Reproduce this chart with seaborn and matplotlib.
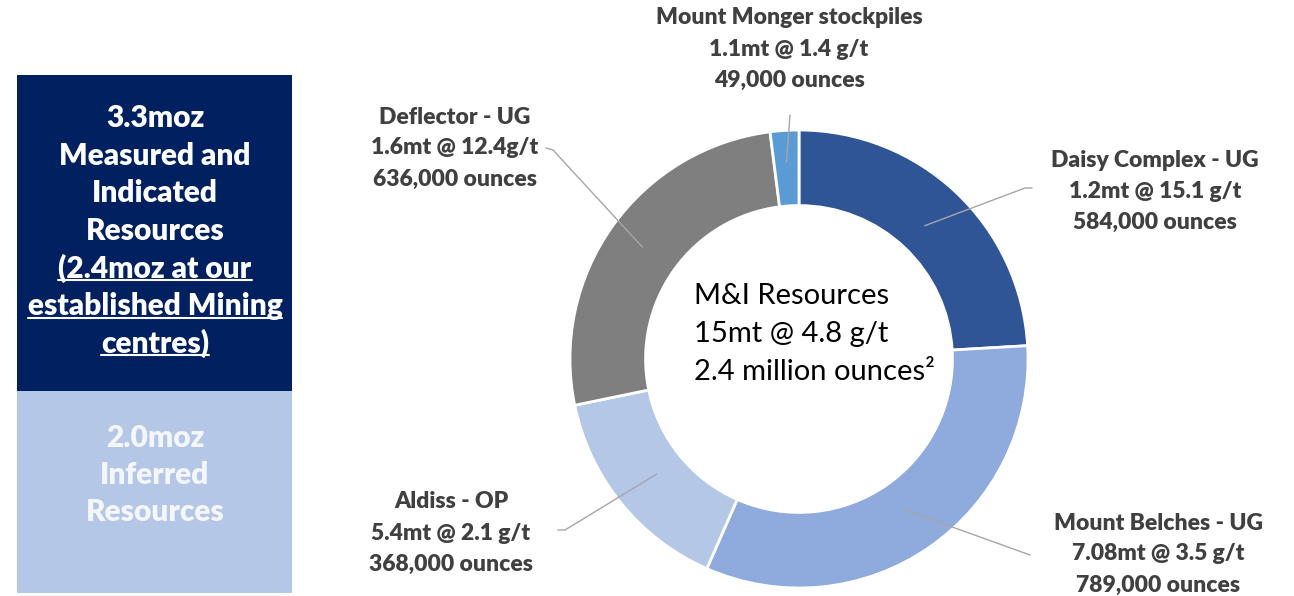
import numpy as np
import pandas as pd
import matplotlib
matplotlib.use("Agg")
import matplotlib.pyplot as plt
import seaborn as sns
from matplotlib.patches import Rectangle
from matplotlib.lines import Line2D

sns.set_theme(style="white")
plt.rcParams['font.family'] = ['Lato', 'DejaVu Sans']

# ---- data ----
deposits = ["Daisy Complex - UG", "Mount Belches - UG", "Aldiss - OP",
            "Deflector - UG", "Mount Monger stockpiles"]
ounces = [584000, 789000, 368000, 636000, 49000]
tonnage_grade = ["1.2mt @ 15.1 g/t", "7.08mt @ 3.5 g/t", "5.4mt @ 2.1 g/t",
                 "1.6mt @ 12.4g/t", "1.1mt @ 1.4 g/t"]
colors = ["#2F5597", "#8FAADC", "#B4C7E7", "#7F7F7F", "#5B9BD5"]
center_lines = ["M&I Resources", "15mt @ 4.8 g/t", "2.4 million ounces\u00b2"]
mi_lines = ["3.3moz", "Measured and", "Indicated", "Resources",
            "(2.4moz at our", "established Mining", "centres)"]
mi_underlined = [False, False, False, False, True, True, True]
inf_lines = ["2.0moz", "Inferred", "Resources"]

df = pd.DataFrame({"deposit": deposits, "ounces": ounces, "tg": tonnage_grade})

# ---- layout (pixels, y from top) ----
W, H = 1294, 596
fig = plt.figure(figsize=(W / 100, H / 100), dpi=100)
fig.patch.set_facecolor("white")

def fx(x):
    return x / W

def fy(y):
    return 1 - y / H

# left panel boxes
fig.patches.append(Rectangle((fx(17), fy(391)), fx(292) - fx(17), fy(75) - fy(391),
                             transform=fig.transFigure, facecolor="#002060",
                             edgecolor="none", zorder=0))
fig.patches.append(Rectangle((fx(17), fy(593)), fx(292) - fx(17), fy(391) - fy(593),
                             transform=fig.transFigure, facecolor="#B4C7E7",
                             edgecolor="none", zorder=0))

mi_y0, step = 118, 37.5
mi_texts = []
for i, (t, u) in enumerate(zip(mi_lines, mi_underlined)):
    y = mi_y0 + i * step
    tx = fig.text(fx(155), fy(y), t, ha="center", va="center", color="white",
                  fontsize=21.5, fontweight="heavy")
    mi_texts.append((tx, u, y))
for i, t in enumerate(inf_lines):
    fig.text(fx(155), fy(438 + i * 37), t, ha="center", va="center",
             color="#F4F6FA", fontsize=21.5, fontweight="heavy")

# donut
cx, cy, R = 799, 359, 229
ax = fig.add_axes([fx(cx - R), fy(cy + R), 2 * R / W, 2 * R / H])
wedges, _ = ax.pie(df["ounces"], colors=colors, startangle=90, counterclock=False,
                   radius=1.0,
                   wedgeprops=dict(width=0.33, edgecolor="white", linewidth=2))
ax.set_xlim(-1, 1)
ax.set_ylim(-1, 1)
ax.set_aspect("equal")
ax.axis("off")

# centre text
for i, t in enumerate(center_lines):
    fig.text(fx(694), fy(296 + i * 38), t, ha="left", va="center",
             color="black", fontsize=21)

# labels
label_pos = {
    "Daisy Complex - UG": ((1155, 160), [(1025, 188), (1032, 188)]),
    "Mount Belches - UG": ((1158, 523), [(1030, 555)]),
    "Aldiss - OP": ((451, 502), [(565, 530), (558, 530)]),
    "Deflector - UG": ((455, 117), [(553, 150), (546, 148)]),
    "Mount Monger stockpiles": ((789, 18), [(790, 115)]),
}
ring_r = {"Daisy Complex - UG": 0.8, "Mount Belches - UG": 0.8, "Aldiss - OP": 0.8,
          "Deflector - UG": 0.84, "Mount Monger stockpiles": 0.86}

fig.canvas.draw()
for w, row in zip(wedges, df.itertuples()):
    ang = np.deg2rad((w.theta1 + w.theta2) / 2)
    r = ring_r[row.deposit]
    px, py = ax.transData.transform((r * np.cos(ang), r * np.sin(ang)))
    (tx, ty), pts = label_pos[row.deposit]
    xs = [px] + [p[0] for p in pts]
    ys = [py] + [H - p[1] for p in pts]
    fig.lines.append(Line2D(xs, ys, transform=None, color="#A6A6A6", linewidth=1.0))
    for j, t in enumerate([row.deposit, row.tg, f"{row.ounces:,} ounces"]):
        fig.text(fx(tx), fy(ty + j * 31), t, ha="center", va="center",
                 color="#404040", fontsize=16.5, fontweight="heavy")

# underlines for the mining centres note
renderer = fig.canvas.get_renderer()
for tx, u, y in mi_texts:
    if u:
        bb = tx.get_window_extent(renderer)
        yy = H - (y + 12)
        fig.lines.append(Line2D([bb.x0, bb.x1], [yy, yy], transform=None,
                                color="white", linewidth=1.5))

fig.savefig("out.png", dpi=100, facecolor="white")
